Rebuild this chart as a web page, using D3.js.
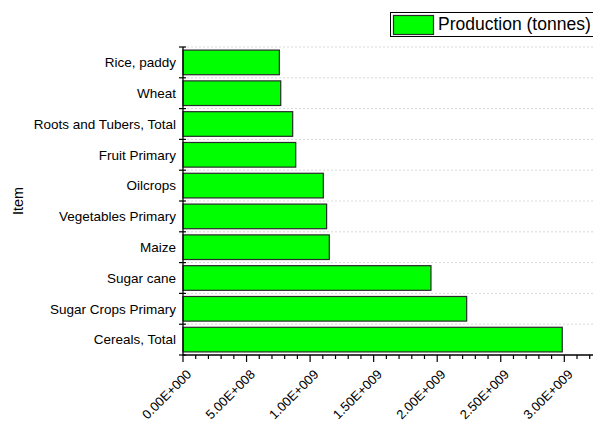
<!DOCTYPE html>
<html>
<head>
<meta charset="utf-8">
<script src="https://cdn.jsdelivr.net/npm/d3@7"></script>
<style>
body { margin: 0; background: #fff; overflow: hidden; }
text { font-family: "Liberation Sans", Arial, sans-serif; fill: #000; }
</style>
</head>
<body>
<script>
const width = 593,
    height = 421;

// categories top to bottom, values in tonnes
const items = ["Rice, paddy", "Wheat", "Roots and Tubers, Total", "Fruit Primary",
    "Oilcrops", "Vegetables Primary", "Maize", "Sugar cane",
    "Sugar Crops Primary", "Cereals, Total"];
const production = [7.58e8, 7.69e8, 8.63e8, 8.87e8, 1.104e9, 1.13e9, 1.151e9,
    1.951e9, 2.232e9, 2.984e9];
const xTicks = [0, 5e8, 1e9, 1.5e9, 2e9, 2.5e9, 3e9];
const xTickLabels = ["0.00E+000", "5.00E+008", "1.00E+009", "1.50E+009",
    "2.00E+009", "2.50E+009", "3.00E+009"];

const plotLeft = 183, plotTop = 47, plotBottom = 355;

const svg = d3.select('body')
    .append('svg')
    .attr('width', width)
    .attr('height', height);

const x = d3.scaleLinear()
    .domain([0, 5e8])
    .range([plotLeft, plotLeft + 63.55]);

const y = d3.scaleBand()
    .domain(items)
    .range([plotTop, plotBottom])
    .paddingInner(0.2)
    .paddingOuter(0.1);

// dotted grid lines at category boundaries
const step = y.step();
svg.append('g')
    .selectAll('line')
    .data(d3.range(items.length))
    .enter().append('line')
    .attr('x1', plotLeft)
    .attr('x2', width)
    .attr('y1', i => plotTop + i * step)
    .attr('y2', i => plotTop + i * step)
    .attr('stroke', '#d8d8d8')
    .attr('stroke-width', 1)
    .attr('stroke-dasharray', '2,2');

// bars
svg.append('g')
    .selectAll('rect')
    .data(items)
    .enter().append('rect')
    .attr('x', x(0))
    .attr('y', d => y(d))
    .attr('width', (d, i) => x(production[i]) - x(0))
    .attr('height', y.bandwidth())
    .attr('fill', '#00ff00')
    .attr('stroke', '#2a2a2a')
    .attr('stroke-width', 1.2);

// x axis
const xAxis = svg.append('g');
xAxis.append('line')
    .attr('x1', plotLeft).attr('x2', width)
    .attr('y1', plotBottom).attr('y2', plotBottom)
    .attr('stroke', '#000').attr('stroke-width', 1.3);

const minor = d3.range(0, 3.3e9, 1e8);
xAxis.selectAll('line.minor')
    .data(minor)
    .enter().append('line')
    .attr('class', 'minor')
    .attr('x1', d => x(d)).attr('x2', d => x(d))
    .attr('y1', plotBottom)
    .attr('y2', (d, i) => i % 5 === 0 ? plotBottom + 7 : plotBottom + 4)
    .attr('stroke', '#000').attr('stroke-width', 1.2);

xAxis.selectAll('text')
    .data(xTicks)
    .enter().append('text')
    .attr('transform', d => 'translate(' + (x(d) + 6) + ',' + (plotBottom + 17) + ') rotate(-45)')
    .attr('text-anchor', 'end')
    .attr('dy', '0.35em')
    .style('font-size', '13px')
    .text((d, i) => xTickLabels[i]);

// y axis
const yAxis = svg.append('g');
yAxis.append('line')
    .attr('x1', plotLeft).attr('x2', plotLeft)
    .attr('y1', plotTop).attr('y2', plotBottom)
    .attr('stroke', '#000').attr('stroke-width', 1.3);

yAxis.selectAll('line.tick')
    .data(d3.range(items.length + 1))
    .enter().append('line')
    .attr('class', 'tick')
    .attr('x1', plotLeft - 4).attr('x2', plotLeft + 3)
    .attr('y1', i => plotTop + i * step)
    .attr('y2', i => plotTop + i * step)
    .attr('stroke', '#000').attr('stroke-width', 1.2);

yAxis.selectAll('text')
    .data(items)
    .enter().append('text')
    .attr('x', plotLeft - 7)
    .attr('y', d => y(d) + y.bandwidth() / 2)
    .attr('dy', '0.35em')
    .attr('text-anchor', 'end')
    .style('font-size', '13.5px')
    .text(d => d);

svg.append('text')
    .attr('transform', 'translate(23,' + ((plotTop + plotBottom) / 2) + ') rotate(-90)')
    .attr('text-anchor', 'middle')
    .style('font-size', '14.5px')
    .text('Item');

// legend
const legend = svg.append('g');
legend.append('rect')
    .attr('x', 390.5).attr('y', 12.5)
    .attr('width', 220).attr('height', 24)
    .attr('fill', '#fff')
    .attr('stroke', '#000').attr('stroke-width', 1);
legend.append('rect')
    .attr('x', 393.5).attr('y', 15.5)
    .attr('width', 40).attr('height', 19)
    .attr('fill', '#00ff00')
    .attr('stroke', '#2a2a2a').attr('stroke-width', 1.2);
legend.append('text')
    .attr('x', 438)
    .attr('y', 30)
    .style('font-size', '17.5px')
    .text('Production (tonnes)');
</script>
</body>
</html>
